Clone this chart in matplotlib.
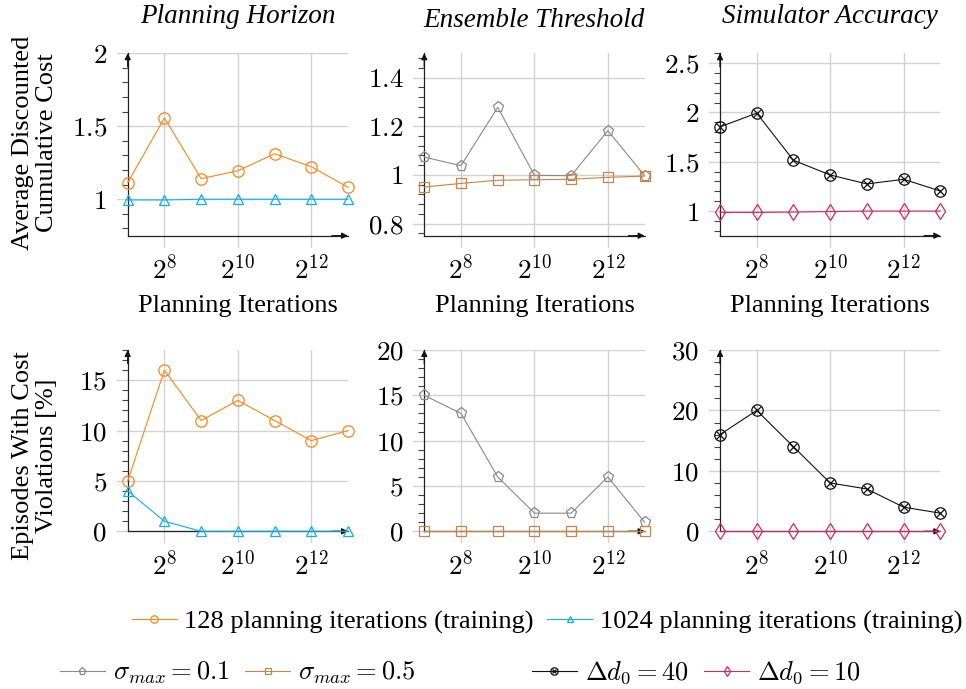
import matplotlib
matplotlib.use("Agg")
import matplotlib.pyplot as plt
from matplotlib.lines import Line2D
from matplotlib.ticker import FixedLocator, NullLocator
import numpy as np

plt.rcParams['font.family'] = ['Liberation Serif', 'DejaVu Serif']
plt.rcParams['mathtext.fontset'] = 'cm'

# x values shared by every panel
iterations = [128, 256, 512, 1024, 2048, 4096, 8192]

# top row: average discounted cumulative cost
horizon_cost_128 = [1.114, 1.557, 1.141, 1.195, 1.311, 1.223, 1.082]
horizon_cost_1024 = [0.995, 0.995, 1.0, 1.0, 1.0, 1.0, 1.0]
ensemble_cost_01 = [1.073, 1.038, 1.278, 0.998, 0.997, 1.182, 0.997]
ensemble_cost_05 = [0.950, 0.965, 0.978, 0.980, 0.982, 0.990, 0.995]
simulator_cost_40 = [1.854, 1.993, 1.515, 1.366, 1.275, 1.322, 1.203]
simulator_cost_10 = [0.986, 0.986, 0.990, 0.995, 1.0, 1.0, 1.0]

# bottom row: episodes with cost violations [%]
horizon_viol_128 = [5, 16, 11, 13, 11, 9, 10]
horizon_viol_1024 = [4, 1, 0, 0, 0, 0, 0]
ensemble_viol_01 = [15, 13, 6, 2, 2, 6, 1]
ensemble_viol_05 = [0, 0, 0, 0, 0, 0, 0]
simulator_viol_40 = [16, 20, 14, 8, 7, 4, 3]
simulator_viol_10 = [0, 0, 0, 0, 0, 0, 0]

col_titles = ['Planning Horizon', 'Ensemble Threshold', 'Simulator Accuracy']
x_ticks = [256, 1024, 4096]
x_tick_labels = ['$2^{8}$', '$2^{10}$', '$2^{12}$']

ORANGE = '#ff8517'
CYAN = '#12aeea'
GRAY = '#8a8a8a'
BROWN = '#c4844a'
BLACK = '#111111'
CRIMSON = '#d12a62'

# series styles: (color, marker, markersize)
sty_128 = (ORANGE, 'o', 8.2)
sty_1024 = (CYAN, '^', 7.5)
sty_01 = (GRAY, 'p', 8)
sty_05 = (BROWN, 's', 7.3)
sty_40 = (BLACK, 'o', 8.2)
sty_10 = (CRIMSON, 'd', 8)

panels = [
    # row, col, series list, ymin, ymax, major step, minor step
    (0, 0, [(horizon_cost_128, sty_128), (horizon_cost_1024, sty_1024)], 0.75, 2.0, 0.5, 0.1),
    (0, 1, [(ensemble_cost_01, sty_01), (ensemble_cost_05, sty_05)], 0.75, 1.5, 0.2, 0.04),
    (0, 2, [(simulator_cost_40, sty_40), (simulator_cost_10, sty_10)], 0.75, 2.6, 0.5, 0.1),
    (1, 0, [(horizon_viol_128, sty_128), (horizon_viol_1024, sty_1024)], 0, 18, 5, 1),
    (1, 1, [(ensemble_viol_01, sty_01), (ensemble_viol_05, sty_05)], 0, 20, 5, 1),
    (1, 2, [(simulator_viol_40, sty_40), (simulator_viol_10, sty_10)], 0, 30, 10, 2),
]

W, H = 966, 689
FS = 19
spine_x = [127.7, 424.3, 720.0]
data_w = 220.3
ext_left = 11
ext_below = 12
row_top = [53.3, 350.0]
row_spine = [235.7, 531.3]

fig = plt.figure(figsize=(W / 100, H / 100), dpi=100)

for row, col, series, ymin, ymax, major, minor in panels:
    sx = spine_x[col]
    top = row_top[row]
    spy = row_spine[row]
    ax = fig.add_axes([(sx - ext_left) / W, 1 - (spy + ext_below) / H,
                       (data_w + ext_left) / W, (spy + ext_below - top) / H])
    ax.set_xscale('log', base=2)
    ax.set_xlim(iterations[0] * 2 ** (-ext_left * 6 / data_w), iterations[-1])
    ax.set_ylim(ymin - (ymax - ymin) * ext_below / (spy - top), ymax)

    for vals, (c, m, ms) in series:
        ax.plot(iterations, vals, color=c, lw=0.8, marker=m, ms=ms, mfc='none',
                mew=0.9, clip_on=False, zorder=4)
        if c == BLACK:
            ax.plot(iterations, vals, ls='none', marker='x', ms=ms * 0.62,
                    color=c, mew=0.9, clip_on=False, zorder=4)

    for s in ['top', 'right']:
        ax.spines[s].set_visible(False)
    ax.spines['left'].set_position(('data', iterations[0]))
    ax.spines['left'].set_bounds(ymin, ymax)
    ax.spines['bottom'].set_position(('data', ymin))
    ax.spines['bottom'].set_bounds(iterations[0], iterations[-1])
    for s in ['left', 'bottom']:
        ax.spines[s].set_linewidth(0.9)
        ax.spines[s].set_color('#222222')

    ax.annotate('', xy=(1, ymin), xytext=(0.93, ymin),
                xycoords=('axes fraction', 'data'),
                arrowprops=dict(arrowstyle='-|>', color='#111111', lw=0.9,
                                mutation_scale=9, shrinkA=0, shrinkB=0))
    ax.annotate('', xy=(iterations[0], 1), xytext=(iterations[0], 0.93),
                xycoords=('data', 'axes fraction'),
                arrowprops=dict(arrowstyle='-|>', color='#111111', lw=0.9,
                                mutation_scale=9, shrinkA=0, shrinkB=0))

    ax.set_xticks(x_ticks)
    ax.set_xticklabels(x_tick_labels)
    ax.xaxis.set_minor_locator(NullLocator())
    majors = np.arange(np.ceil(ymin / major) * major, ymax + 1e-9, major)
    minors = [v for v in np.arange(np.ceil(ymin / minor) * minor, ymax + 1e-9, minor)
              if v > ymin + 1e-9 and np.min(np.abs(majors - v)) > 1e-6]
    ax.yaxis.set_major_locator(FixedLocator(majors))
    ax.yaxis.set_minor_locator(FixedLocator(minors))
    ax.set_yticklabels([f'${v:g}$' for v in majors])
    ax.tick_params(axis='both', which='major', length=0, labelsize=FS + 0.5)
    ax.tick_params(axis='x', which='major', pad=14)
    ax.tick_params(axis='y', which='major', pad=15)
    ax.tick_params(axis='y', which='minor', length=4, width=0.8, direction='out',
                   color='#444444')
    ax.grid(True, which='major', color='#d2d2d2', lw=1.0)
    ax.set_axisbelow(True)

    xc = (sx + data_w / 2) / W
    if row == 0:
        fig.text(xc, 1 - (27.0 if col == 1 else 22.7) / H, col_titles[col],
                 ha='center', va='baseline', fontsize=FS + 0.5, style='italic')
        fig.text(xc, 1 - 312 / H, 'Planning Iterations', ha='center',
                 va='baseline', fontsize=FS)

fig.text(35 / W, 1 - 143 / H, 'Average Discounted\nCumulative Cost', rotation=90,
         ha='center', va='center', multialignment='center', fontsize=FS,
         linespacing=1.1)
fig.text(35 / W, 1 - 456 / H, 'Episodes With Cost\nViolations [%]', rotation=90,
         ha='center', va='center', multialignment='center', fontsize=FS,
         linespacing=1.1)


def handle(sty):
    c, m, ms = sty
    h = Line2D([], [], color=c, lw=0.8, marker=m, ms=ms * 0.65, mfc='none', mew=0.9)
    if c == BLACK:
        return (h, Line2D([], [], ls='none', color=c, marker='x', ms=ms * 0.42, mew=0.9))
    return h


leg_kw = dict(frameon=False, fontsize=FS, handlelength=1.7, handletextpad=0.3,
              borderpad=0, borderaxespad=0, ncol=2, loc='center left')
leg1 = fig.legend([handle(sty_128), handle(sty_1024)],
                  ['128 planning iterations (training)', '1024 planning iterations (training)'],
                  bbox_to_anchor=(131.7 / W, 1 - 622 / H), columnspacing=0.5, **leg_kw)
leg2 = fig.legend([handle(sty_01), handle(sty_05)],
                  [r'$\sigma_{max} = 0.1$', r'$\sigma_{max} = 0.5$'],
                  bbox_to_anchor=(60 / W, 1 - 673 / H), columnspacing=0.6, **leg_kw)
leg3 = fig.legend([handle(sty_40), handle(sty_10)],
                  [r'$\Delta d_0 = 40$', r'$\Delta d_0 = 10$'],
                  bbox_to_anchor=(532 / W, 1 - 673 / H), columnspacing=0.6, **leg_kw)

fig.savefig('out.png', dpi=100)
